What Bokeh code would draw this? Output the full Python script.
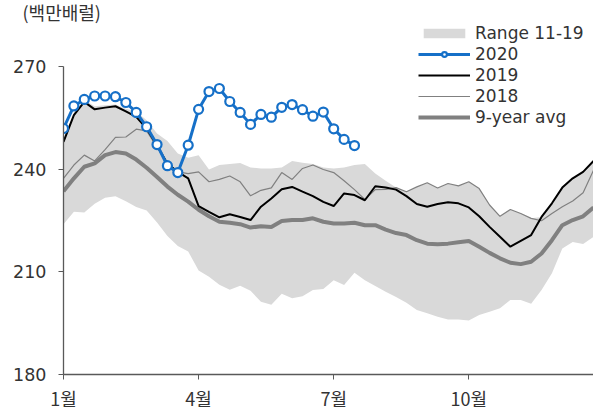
from bokeh.plotting import figure
from bokeh.models import Legend, LegendItem, FixedTicker, Range1d
from bokeh.embed import file_html
from bokeh.resources import INLINE

FONT_KR = "Noto Sans CJK KR"
FONT = "DejaVu Sans"

unit_label = "(백만배럴)"
weeks = list(range(52))
month_ticks = [0, 13, 26, 39]
month_labels = ["1월", "4월", "7월", "10월"]
y_ticks = [180, 210, 240, 270]

range_hi = [249, 256.5, 260.3, 258.5, 258.8, 259, 257.8, 257, 254.4, 250.5,
            248.3, 244.7, 243.4, 244.2, 240, 241.3, 241.6, 241.9, 240.6, 240.3,
            240.3, 240.6, 242.5, 242, 241.6, 240.6, 240.3, 240.6, 241.3, 241.6,
            238.8, 236.7, 234.7, 233.5, 234.9, 236.1, 234.6, 235.9, 235.2, 236.4,
            234.4, 229.6, 226.3, 228.3, 227.1, 225.7, 226.1, 230.1, 234.7, 237.4,
            239.3, 242.5]
range_lo = [224, 227.6, 227.4, 230, 231.7, 232.2, 230.7, 229, 228, 224.5,
            220.5, 217.6, 216, 210.4, 208.6, 206.3, 204.8, 206, 204.5, 201.3,
            200.4, 203.6, 202.3, 202.9, 204.7, 205, 207.6, 206.2, 209.8, 207.6,
            205.9, 204.2, 202.7, 201, 198.9, 197.9, 196.9, 196.1, 196.1, 195.8,
            197.4, 198.4, 199.4, 201.8, 201.8, 200.7, 204.7, 209.6, 216.9, 218.8,
            218.2, 220.3]
y2020 = [252.0, 258.6, 260.5, 261.5, 261.5, 261.3, 259.6, 256.7, 252.5, 247.3,
         241.1, 239.1, 247.1, 257.6, 262.8, 263.7, 259.9, 256.7, 253.2, 256.1,
         255.3, 258.2, 259.0, 257.5, 255.6, 256.8, 251.9, 248.8, 247.0]
y2019 = [248.1, 255.9, 259.8, 257.6, 258.1, 258.5, 257, 255.4, 252, 247,
         241.7, 239.3, 237.4, 229.3, 227.6, 226, 226.9, 226.1, 225.2, 229.1,
         231.5, 234.2, 234.9, 233.5, 232.2, 230.5, 229.3, 233, 232.5, 231,
         235.1, 234.7, 234.1, 232.2, 229.9, 229.1, 229.9, 230.4, 230.1, 228.9,
         226.3, 223.2, 220.3, 217.4, 219.1, 220.8, 226.1, 230.1, 234.7, 237.4,
         239.3, 242.5]
y2018 = [237.4, 241.3, 244.2, 242.5, 245.8, 249.4, 249.5, 251.8, 251.3, 246.5,
         242, 239.3, 238.8, 239.3, 236.4, 237.1, 238.1, 236.4, 232.3, 233.9,
         234.6, 239.1, 237.1, 240.3, 241.3, 240, 239.1, 236.7, 234.1, 231.2,
         234.1, 234.2, 234.7, 233.5, 234.9, 236.1, 234.6, 235.9, 235.2, 236.4,
         234.4, 229.6, 226.3, 228.3, 227.1, 225.7, 225, 227.1, 229.1, 230.8,
         233.2, 239.8]
avg9 = [233.6, 237.4, 240.8, 241.8, 244.2, 245.1, 244.7, 242.9, 240.5, 237.8,
        235, 232.6, 230.6, 228.2, 226.3, 224.7, 224.4, 224, 223, 223.4,
        223.2, 224.9, 225.2, 225.2, 225.7, 224.7, 224.2, 224.2, 224.4, 223.7,
        223.7, 222.4, 221.4, 220.8, 219.3, 218.3, 218.1, 218.3, 218.7, 219.1,
        217.4, 215.6, 214, 212.7, 212.3, 213, 215.4, 219.3, 223.7, 225.2,
        226.3, 228.9]
weeks2020 = weeks[:len(y2020)]

BLUE = "#1670C8"
TXT = "#333333"

p = figure(width=593, height=414, output_backend="svg", toolbar_location=None,
           x_range=Range1d(0, 51), y_range=Range1d(180, 283.6),
           min_border_left=63, min_border_right=0, min_border_top=0,
           min_border_bottom=40, title=unit_label)
p.title.align = "left"
p.title.vertical_align = "bottom"
p.title.offset = -41
p.title.standoff = -8
p.title.text_font = FONT_KR
p.title.text_font_size = "18px"
p.title.text_font_style = "normal"
p.title.text_color = TXT

p.outline_line_color = None
p.xgrid.visible = False
p.ygrid.visible = False
p.background_fill_color = "white"

band = p.varea(x=weeks, y1=range_lo, y2=range_hi, fill_color="#d9d9d9")
r_avg = p.line(weeks, avg9, line_color="#808080", line_width=4)
r18 = p.line(weeks, y2018, line_color="#808080", line_width=1.2)
r19 = p.line(weeks, y2019, line_color="#000000", line_width=2)
r20 = p.line(weeks2020, y2020, line_color=BLUE, line_width=3)
s20 = p.scatter(weeks2020, y2020, size=9, marker="circle", fill_color="white",
                line_color=BLUE, line_width=2.2)

legend = Legend(items=[
    LegendItem(label="Range 11-19", renderers=[band]),
    LegendItem(label="2020", renderers=[r20, s20]),
    LegendItem(label="2019", renderers=[r19]),
    LegendItem(label="2018", renderers=[r18]),
    LegendItem(label="9-year avg", renderers=[r_avg]),
], location=(355, 247))
legend.glyph_width = 52
legend.glyph_height = 12
legend.label_height = 20
legend.spacing = 1
legend.padding = 0
legend.margin = 0
legend.label_standoff = 5
legend.border_line_color = None
legend.background_fill_alpha = 0
legend.label_text_font = FONT
legend.label_text_font_size = "17px"
legend.label_text_color = TXT
p.add_layout(legend, "center")

xa = p.xaxis[0]
xa.ticker = FixedTicker(ticks=month_ticks)
xa.major_label_overrides = {t: l for t, l in zip(month_ticks, month_labels)}
xa.minor_tick_line_color = None
xa.major_tick_in = 0
xa.major_tick_out = 5
xa.axis_line_color = "#595959"
xa.major_tick_line_color = "#595959"
xa.axis_line_width = 1.3
xa.major_label_text_font = FONT_KR
xa.major_label_text_font_size = "18px"
xa.major_label_text_color = TXT
xa.major_label_standoff = 5

ya = p.yaxis[0]
ya.ticker = FixedTicker(ticks=y_ticks)
ya.bounds = (180, 270)
ya.minor_tick_line_color = None
ya.major_tick_in = 0
ya.major_tick_out = 5
ya.axis_line_color = "#595959"
ya.major_tick_line_color = "#595959"
ya.axis_line_width = 1.3
ya.major_label_text_font = FONT
ya.major_label_text_font_size = "17.5px"
ya.major_label_text_color = TXT
ya.major_label_standoff = 12

open("out.html", "w").write(file_html(p, INLINE))
